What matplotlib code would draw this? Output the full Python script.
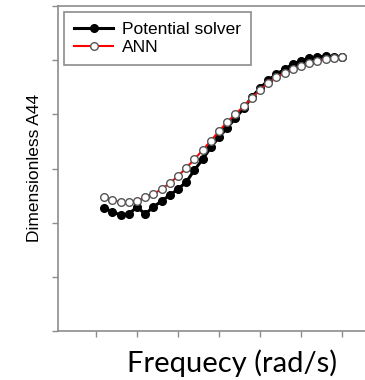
import matplotlib
matplotlib.use("Agg")
import matplotlib.pyplot as plt
import numpy as np

freq = [1.2, 1.4, 1.6, 1.8, 2.0, 2.2, 2.4, 2.6, 2.8, 3.0,
        3.2, 3.4, 3.6, 3.8, 4.0, 4.2, 4.4, 4.6, 4.8, 5.0,
        5.2, 5.4, 5.6, 5.8, 6.0, 6.2, 6.4, 6.6, 6.8, 7.0]
potential = [2.27, 2.20, 2.14, 2.16, 2.29, 2.16, 2.29, 2.40, 2.51, 2.62,
             2.75, 2.97, 3.17, 3.39, 3.58, 3.75, 3.93, 4.11, 4.32, 4.48,
             4.63, 4.74, 4.83, 4.93, 4.98, 5.04, 5.06, 5.07, 5.06, 5.06]
ann = [2.47, 2.42, 2.38, 2.38, 2.40, 2.47, 2.53, 2.62, 2.73, 2.86,
       3.01, 3.17, 3.34, 3.51, 3.69, 3.86, 4.00, 4.15, 4.30, 4.45,
       4.58, 4.69, 4.76, 4.83, 4.89, 4.94, 4.98, 5.02, 5.04, 5.06]
xticks = [1, 2, 3, 4, 5, 6, 7]
yticks = [0, 1, 2, 3, 4, 5, 6]

W, H = 365, 380
fig = plt.figure(figsize=(W / 100, H / 100), dpi=100)
ax = fig.add_axes([58 / W, 49 / H, (W - 58) / W, (331 - 6) / H])

ax.plot(freq, potential, color='black', lw=2.2, marker='o', ms=5.5,
        mfc='black', mec='black', label='Potential solver', zorder=2)
ax.plot(freq, ann, color='red', lw=1.5, marker='o', ms=5.5,
        mfc='white', mec='#555555', mew=1.0, label='ANN', zorder=3)

ax.set_xlim(3 / 41, 310 / 41)
ax.set_ylim(0, 6)
ax.set_xticks(xticks)
ax.set_yticks(yticks)
ax.set_xticklabels([])
ax.set_yticklabels([])
for s in ['left', 'bottom', 'top']:
    ax.spines[s].set_color('#8c8c8c')
    ax.spines[s].set_linewidth(1.2)
ax.spines['right'].set_visible(False)
ax.tick_params(axis='both', direction='out', length=4, width=1, color='#8c8c8c')

leg = ax.legend(loc='upper left', bbox_to_anchor=(0.0195, 0.9815),
                borderaxespad=0, fancybox=False, edgecolor='#8c8c8c',
                framealpha=1, handlelength=2.3, handletextpad=0.5,
                labelspacing=0.2, borderpad=0.55,
                prop={'family': 'Liberation Sans', 'size': 12.5})
leg.get_frame().set_linewidth(1.2)

fig.text(35 / W, 1 - 168 / H, 'Dimensionless A44', rotation=90,
         ha='center', va='center', family='Liberation Sans', fontsize=12.5)
fig.text(232 / W, 1 - 372 / H, 'Frequecy (rad/s)', ha='center',
         va='baseline', family='Lato', fontsize=21)

fig.savefig('out.png', dpi=100)
